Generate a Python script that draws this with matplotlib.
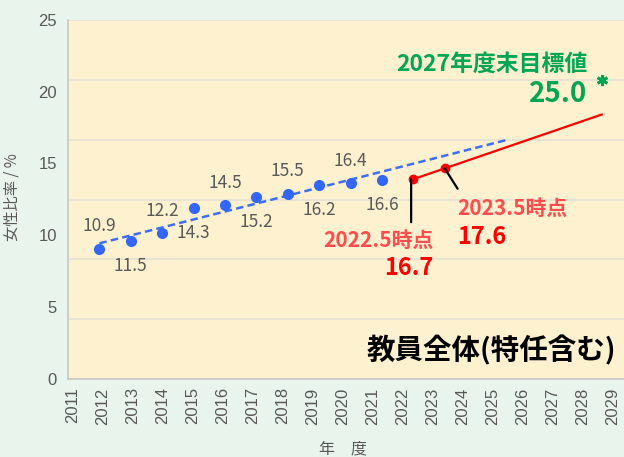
import numpy as np
import matplotlib.pyplot as plt

plt.rcParams['font.family'] = ['Noto Sans CJK JP', 'DejaVu Sans']

# 実績 (教員全体)
years = [2012, 2013, 2014, 2015, 2016, 2017, 2018, 2019, 2020, 2021]
ratio = [10.9, 11.5, 12.2, 14.3, 14.5, 15.2, 15.5, 16.2, 16.4, 16.6]

# 計画線 (2022.5時点, 2023.5時点, 延長)
plan_x = [2022, 2023, 2028]
plan_y = [16.7, 17.6, 22.1]

# 目標値
goal_x = 2028
goal_y = 25.0

tick_years = list(range(2011, 2030))
y_labels = [0, 5, 10, 15, 20, 25]

gray = '#595959'
fig = plt.figure(figsize=(6.24, 4.57), dpi=100, facecolor='#e9f4ec')
ax = fig.add_axes([68/624, 78/457, 556/624, 359/457])
ax.set_facecolor('#fef1d0')
ax.set_xlim(2011, 2028.71)
ax.set_ylim(0, 30)
ax.set_yticks(range(0, 31, 5))
ax.set_yticklabels([])
ax.set_xticks([])
ax.tick_params(length=0)
ax.grid(axis='y', color='#e6e0d3', lw=1.2)
ax.set_axisbelow(True)
for s in ['top', 'right']:
    ax.spines[s].set_visible(False)
for s in ['left', 'bottom']:
    ax.spines[s].set_color('#c8c8c8')
    ax.spines[s].set_linewidth(1.2)

# 近似直線
k, b = np.polyfit(years, ratio, 1)
tx = np.array([years[0], 2025])
ax.plot(tx, k*tx + b, color='#3d6ef5', lw=1.8, dashes=(3, 1.7), zorder=2)
ax.plot(years, ratio, 'o', color='#3366ff', ms=7, zorder=3)
for i, (x, y) in enumerate(zip(years, ratio)):
    dy = 16 if i % 2 == 0 else -18
    ax.annotate(f'{y:.1f}', (x, y), xytext=(0, dy), textcoords='offset points',
                ha='center', va='center', fontsize=12.5, color=gray)

# 計画線
ax.plot(plan_x, plan_y, '-o', color='#ff0000', lw=1.6, ms=6, markevery=[0, 1], zorder=3)
ax.plot(goal_x, goal_y, marker=(6, 2, 0), color='#00a651', ms=8, mew=2)

ax.annotate('', xy=(2021.93, plan_y[0]), xytext=(2021.93, 13.1),
            arrowprops=dict(arrowstyle='-', color='black', lw=1.6, shrinkA=0, shrinkB=0))
ax.annotate('', xy=(plan_x[1], plan_y[1]), xytext=(2023.41, 15.9),
            arrowprops=dict(arrowstyle='-', color='black', lw=1.6, shrinkA=0, shrinkB=0))

ax.text(2022.64, 11.58, '2022.5時点', ha='right', va='center', fontsize=15,
        color='#ff4d4d', fontweight='bold')
ax.text(2022.64, 9.25, f'{plan_y[0]:.1f}', ha='right', va='center', fontsize=17,
        color='#ff0000', fontweight='bold')
ax.text(2023.4, 14.25, '2023.5時点', ha='left', va='center', fontsize=15,
        color='#ff4d4d', fontweight='bold')
ax.text(2023.4, 11.83, f'{plan_y[1]:.1f}', ha='left', va='center', fontsize=17,
        color='#ff0000', fontweight='bold')
ax.text(2027.55, 26.33, '2027年度末目標値', ha='right', va='center', fontsize=16.5,
        color='#00a651', fontweight='bold')
ax.text(2027.55, 23.83, f'{goal_y:.1f}', ha='right', va='center', fontsize=20,
        color='#00a651', fontweight='bold')
ax.text(2028.46, 2.42, '教員全体(特任含む)', ha='right', va='center', fontsize=20.5,
        color='black', fontweight='bold')

ax.set_ylabel('女性比率 / %', fontsize=11, color=gray)
ax.yaxis.set_label_coords(-0.086, 0.507)
ax.set_xlabel('年\u3000度', fontsize=11.5, color=gray, va='center')
ax.xaxis.set_label_coords(0.495, -0.195)

# 目盛ラベル
ay = ax.twinx()
ay.set_ylim(-0.03, 25)
ay.yaxis.tick_left()
ay.set_yticks(y_labels)
ay.set_yticklabels([str(v) for v in y_labels], fontsize=12, color=gray,
                   family='Liberation Sans')
ay.tick_params(length=0, pad=8)
ax_x = ax.twiny()
ax_x.set_xlim(2010.833, 2029.367)
ax_x.xaxis.tick_bottom()
ax_x.set_xticks(tick_years)
ax_x.set_xticklabels([str(v) for v in tick_years], rotation=90, fontsize=12,
                     color=gray, family='Liberation Sans')
ax_x.tick_params(length=0, pad=6)
for a in (ay, ax_x):
    for s in a.spines.values():
        s.set_visible(False)

fig.savefig('out.png', dpi=100, facecolor=fig.get_facecolor())
